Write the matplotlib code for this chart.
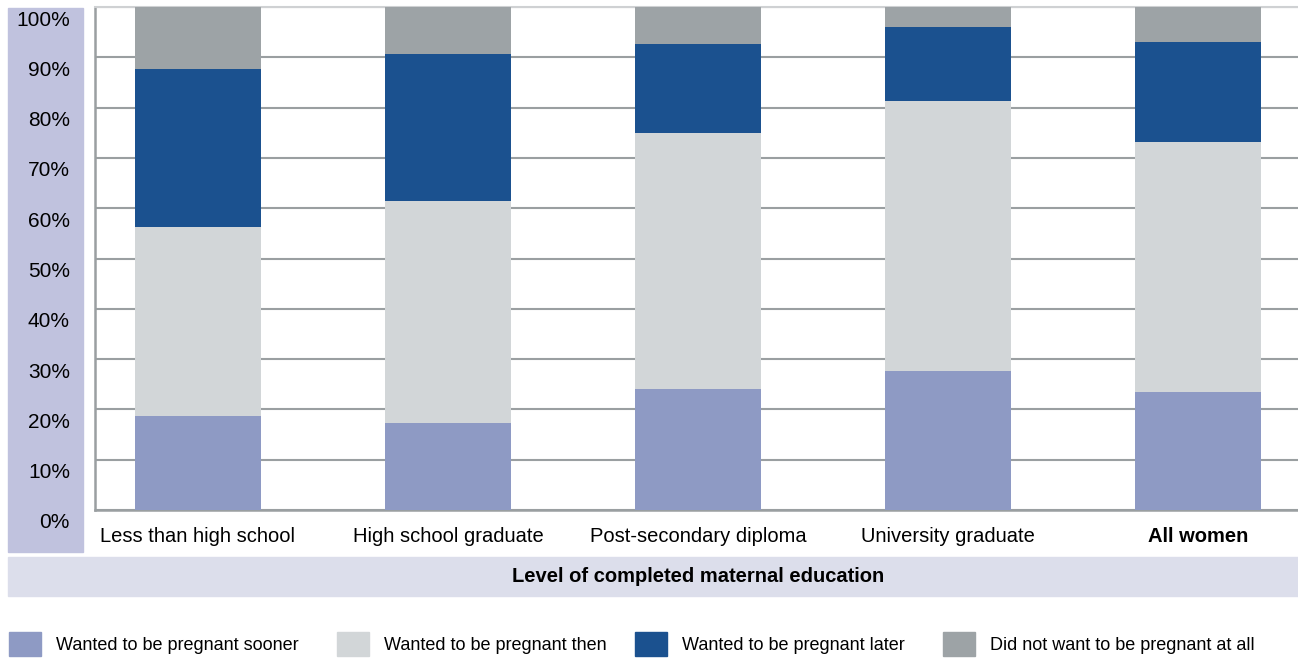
import matplotlib
matplotlib.use('Agg')
import matplotlib.pyplot as plt
import matplotlib.transforms as mtransforms
from matplotlib.patches import Rectangle, Patch
import numpy as np

plt.rcParams['font.family'] = ['Liberation Sans', 'DejaVu Sans']

categories = ['Less than high school', 'High school graduate', 'Post-secondary diploma',
              'University graduate', 'All women']
series_names = ['Wanted to be pregnant sooner', 'Wanted to be pregnant then',
                'Wanted to be pregnant later', 'Did not want to be pregnant at all']
sooner = [18.7, 17.3, 24.1, 27.7, 23.5]
then = [37.6, 44.2, 50.8, 53.6, 49.6]
later = [31.4, 29.1, 17.7, 14.7, 19.9]
not_at_all = [12.3, 9.4, 7.4, 4.0, 7.0]
colors = ['#8e9ac4', '#d2d6d8', '#1b518f', '#9da3a6']
yticks = np.arange(0, 101, 10)

W, H = 1298, 661
fig = plt.figure(figsize=(W / 100, H / 100), dpi=100)

def px(x0, y0, x1, y1):
    # pixel box (top-left origin) -> figure fraction rect
    return [x0 / W, 1 - y1 / H, (x1 - x0) / W, (y1 - y0) / H]

# background bands
fig.patches.append(Rectangle((8 / W, 1 - 552 / H), 75 / W, 544 / H,
                             transform=fig.transFigure, color='#c0c2de', zorder=0))
fig.patches.append(Rectangle((8 / W, 1 - 596 / H), 1290 / W, 39 / H,
                             transform=fig.transFigure, color='#dcdeeb', zorder=0))

ax = fig.add_axes(px(95, 7, 1298, 510))
ax.set_zorder(2)
x = np.arange(len(categories))
bottom = np.zeros(len(categories))
handles = []
for name, vals, c in zip(series_names, [sooner, then, later, not_at_all], colors):
    b = ax.bar(x, vals, width=0.504, bottom=bottom, color=c, label=name, zorder=3)
    handles.append(b)
    bottom += np.array(vals)

ax.set_xlim(-0.412, 4.4)
ax.set_ylim(0, 100)
ax.set_yticks(yticks)
ax.set_yticklabels([f'{v}%' for v in yticks], fontsize=15)
ax.set_xticks(x)
ax.set_xticklabels(categories, fontsize=14.5)
ax.get_xticklabels()[-1].set_fontweight('bold')
ax.tick_params(axis='y', length=0, pad=18)
ax.tick_params(axis='x', length=0, pad=12)
# labels sit a bit below their gridlines in the original
shift = mtransforms.ScaledTranslation(0, -11 / 100, fig.dpi_scale_trans)
for lab in ax.get_yticklabels():
    lab.set_transform(lab.get_transform() + shift)
ax.yaxis.grid(True, color='#9a9fa1', linewidth=1.5, zorder=1)
ax.set_axisbelow(True)
for s in ['left', 'bottom']:
    ax.spines[s].set_color('#9a9fa1')
    ax.spines[s].set_linewidth(1.8)
ax.spines['right'].set_visible(False)
ax.spines['top'].set_color('#cfd1d3')
ax.spines['top'].set_linewidth(1.5)

fig.text(698 / W, 1 - 577 / H, 'Level of completed maternal education', ha='center',
         va='center', fontsize=14.5, fontweight='bold', zorder=3)

# legend, one entry per box position
box_x = [9, 337, 635, 943]
for h, name, bx in zip(handles, series_names, box_x):
    fig.legend([Patch(color=h.patches[0].get_facecolor())], [name],
               loc='center left', bbox_to_anchor=(bx / W, 1 - 644 / H),
               frameon=False, fontsize=13, handlelength=1.75, handleheight=1.75,
               handletextpad=0.85, borderpad=0, borderaxespad=0)

fig.savefig('out.png', dpi=100)
